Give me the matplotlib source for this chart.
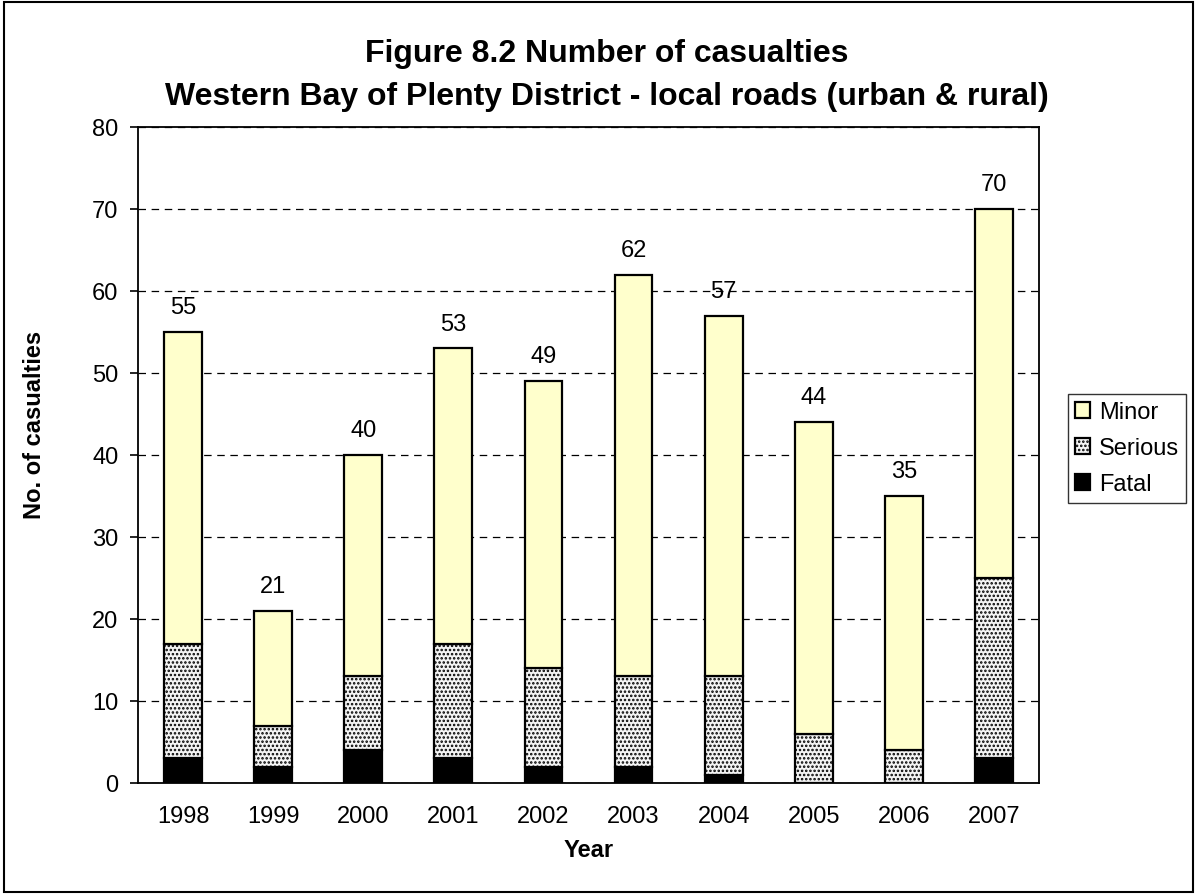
import matplotlib
matplotlib.use('Agg')
import matplotlib.pyplot as plt
import matplotlib as mpl
import numpy as np

mpl.rcParams['font.family'] = ['Liberation Sans', 'DejaVu Sans']
mpl.rcParams['hatch.color'] = '#8c8c8c'
mpl.rcParams['hatch.linewidth'] = 1.2

# data
years = ['1998', '1999', '2000', '2001', '2002', '2003', '2004', '2005', '2006', '2007']
fatal = [3, 2, 4, 3, 2, 2, 1, 0, 0, 3]
serious = [14, 5, 9, 14, 12, 11, 12, 6, 4, 22]
minor = [38, 14, 27, 36, 35, 49, 44, 38, 31, 45]

fatal = np.array(fatal)
serious = np.array(serious)
minor = np.array(minor)
totals = fatal + serious + minor

W, H = 1197, 895
fig = plt.figure(figsize=(W / 100, H / 100), dpi=100)
ax = fig.add_axes([138 / W, 1 - 784 / H, (1039 - 138) / W, (784 - 128) / H])

x = np.arange(len(years))
w = 0.42
b_fatal = ax.bar(x, fatal, w, color='black', edgecolor='black', linewidth=1.6, zorder=3, label='Fatal')
b_serious = ax.bar(x, serious, w, bottom=fatal, color='#f4f4f4', edgecolor='black',
                   linewidth=1.6, hatch='....', zorder=3, label='Serious')
b_minor = ax.bar(x, minor, w, bottom=fatal + serious, color='#ffffcc', edgecolor='black',
                 linewidth=1.6, zorder=3, label='Minor')

for xi, t in zip(x, totals):
    ax.text(xi, t + 2.3, str(t), ha='center', va='baseline', fontsize=17)

ax.set_xlim(-0.5, len(years) - 0.5)
ax.set_ylim(0, 80)
ax.set_yticks(range(0, 81, 10))
ax.set_xticks(x)
ax.set_xticklabels(years)
ax.tick_params(axis='both', labelsize=17, length=6, width=1.2, direction='out')
ax.tick_params(axis='y', pad=8)
ax.tick_params(axis='x', length=0, pad=16)
ax.yaxis.grid(True, linestyle=(0, (6, 4.5)), color='black', linewidth=0.9, zorder=0)
ax.set_axisbelow(True)
for s in ax.spines.values():
    s.set_linewidth(1.3)

ax.set_xlabel('Year', fontsize=17, fontweight='bold', labelpad=8)
fig.text(35 / W, 1 - 425 / H, 'No. of casualties', rotation=90, ha='center', va='center',
         fontsize=17, fontweight='bold')

fig.text(607 / W, 1 - 62 / H, 'Figure 8.2 Number of casualties', ha='center', va='baseline',
         fontsize=23, fontweight='bold')
fig.text(607 / W, 1 - 105 / H, 'Western Bay of Plenty District - local roads (urban & rural)',
         ha='center', va='baseline', fontsize=23, fontweight='bold')

handles = [b_minor, b_serious, b_fatal]
leg = fig.legend(handles, ['Minor', 'Serious', 'Fatal'], loc='upper left',
                 bbox_to_anchor=(1068 / W, 1 - 395 / H), bbox_transform=fig.transFigure,
                 borderaxespad=0, fontsize=17, frameon=True, fancybox=False,
                 edgecolor='black', handlelength=0.65, handleheight=0.65, handletextpad=0.35,
                 borderpad=0.3, labelspacing=0.6)
leg.get_frame().set_linewidth(1.0)

# outer border
fig.patches.append(plt.Rectangle((4 / W, 2 / H), 1 - 8 / W, 1 - 5 / H, transform=fig.transFigure,
                                 fill=False, edgecolor='black', linewidth=1.5))

fig.savefig('out.png', dpi=100)
